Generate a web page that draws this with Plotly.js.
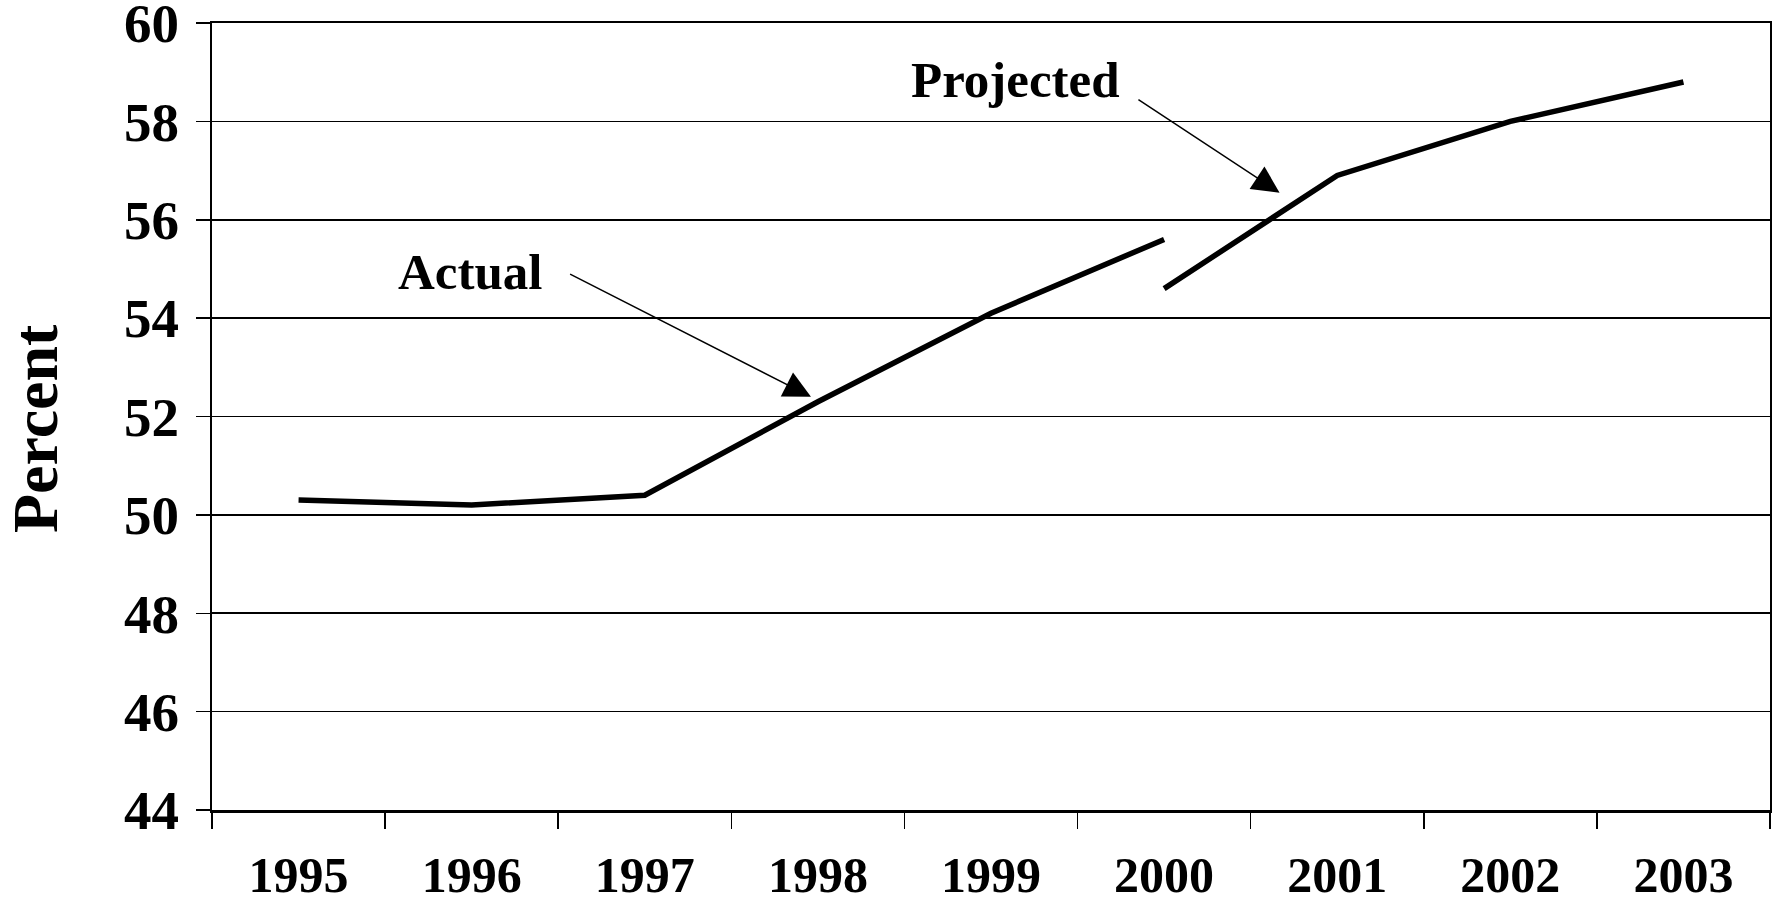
<!DOCTYPE html>
<html>
<head>
<meta charset="utf-8">
<script src="https://cdn.plot.ly/plotly-3.0.1.min.js"></script>
<style>
  html, body { margin: 0; padding: 0; background: #fff; }
  #chart { width: 1776px; height: 904px; }
</style>
</head>
<body>
<div id="chart"></div>
<script>
// Years on the category axis
const years = ['1995', '1996', '1997', '1998', '1999', '2000', '2001', '2002', '2003'];

// Actual share, 1995-2000 (percent)
const actualYears = ['1995', '1996', '1997', '1998', '1999', '2000'];
const actualValues = [50.3, 50.2, 50.4, 52.3, 54.1, 55.6];

// Projected share, 2000-2003 (percent)
const projectedYears = ['2000', '2001', '2002', '2003'];
const projectedValues = [54.6, 56.9, 58.0, 58.8];

// Value axis ticks
const yTicks = [44, 46, 48, 50, 52, 54, 56, 58, 60];

const serif = 'Liberation Serif, Times New Roman, serif';
const lineStyle = { color: '#000', width: 5.5 };

const traces = [
  {
    x: actualYears, y: actualValues, type: 'scatter', mode: 'lines',
    name: 'Actual', line: lineStyle, hoverinfo: 'x+y'
  },
  {
    x: projectedYears, y: projectedValues, type: 'scatter', mode: 'lines',
    name: 'Projected', line: lineStyle, hoverinfo: 'x+y'
  }
];

const labelFont = { family: serif, size: 51, color: '#000', weight: 'bold' };

const layout = {
  width: 1776,
  height: 904,
  paper_bgcolor: '#fff',
  plot_bgcolor: '#fff',
  showlegend: false,
  margin: { l: 212, r: 6, t: 23, b: 94 },
  font: { family: serif, color: '#000' },
  xaxis: {
    type: 'category',
    categoryorder: 'array',
    categoryarray: years,
    range: [-0.5, years.length - 0.5],
    tickson: 'boundaries',
    ticks: 'outside',
    ticklen: 16,
    tickwidth: 1.5,
    tickcolor: '#000',
    showline: true,
    linecolor: '#000',
    linewidth: 2.5,
    mirror: true,
    showgrid: false,
    zeroline: false,
    ticklabelstandoff: 19,
    ticklabeloverflow: 'allow',
    tickfont: { family: serif, size: 50, color: '#000', weight: 'bold' }
  },
  yaxis: {
    range: [44, 60],
    tickvals: yTicks,
    ticktext: yTicks.map(String),
    ticks: 'outside',
    ticklen: 14,
    tickwidth: 1.5,
    tickcolor: '#000',
    showline: true,
    linecolor: '#000',
    linewidth: 2,
    mirror: true,
    showgrid: true,
    gridcolor: '#000',
    gridwidth: 1.6,
    zeroline: false,
    ticklabelstandoff: 6,
    ticklabeloverflow: 'allow',
    tickfont: { family: serif, size: 55, color: '#000', weight: 'bold' }
  },
  annotations: [
    {
      // value axis title
      x: -0.1136, y: 0.484, xref: 'paper', yref: 'paper',
      xanchor: 'center', yanchor: 'middle', textangle: -90,
      text: 'Percent', showarrow: false,
      font: { family: serif, size: 64, color: '#000', weight: 'bold' }
    },
    {
      x: 0.99, y: 54.94, xref: 'x', yref: 'y',
      text: 'Actual', showarrow: false, font: labelFont
    },
    {
      x: 4.14, y: 58.85, xref: 'x', yref: 'y',
      text: 'Projected', showarrow: false, font: labelFont
    },
    {
      x: 2.96, y: 52.4, xref: 'x', yref: 'y',
      ax: 1.56, ay: 54.91, axref: 'x', ayref: 'y',
      text: '', showarrow: true, arrowhead: 2, arrowsize: 3.6,
      arrowwidth: 1.5, arrowcolor: '#000'
    },
    {
      x: 5.667, y: 56.55, xref: 'x', yref: 'y',
      ax: 4.843, ay: 58.46, axref: 'x', ayref: 'y',
      text: '', showarrow: true, arrowhead: 2, arrowsize: 3.6,
      arrowwidth: 1.5, arrowcolor: '#000'
    }
  ]
};

Plotly.newPlot('chart', traces, layout, { displayModeBar: false, staticPlot: true });
</script>
</body>
</html>
